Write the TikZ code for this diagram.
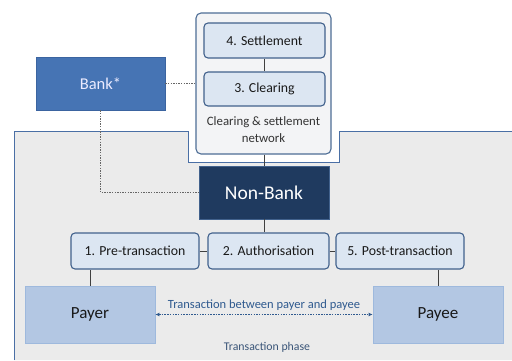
\documentclass[tikz,border=0pt]{standalone}
\usepackage{fontspec}
\setmainfont{Carlito}
\usetikzlibrary{arrows.meta}
\definecolor{greybg}{HTML}{EBEBEB}
\definecolor{frameblue}{HTML}{4A6FA5}
\definecolor{netfill}{HTML}{F3F4F6}
\definecolor{netline}{HTML}{4E6E96}
\definecolor{stepfill}{HTML}{DCE6F2}
\definecolor{stepline}{HTML}{41618C}
\definecolor{bankfill}{HTML}{4674B4}
\definecolor{bankline}{HTML}{3B64A0}
\definecolor{nonbank}{HTML}{1F3A5F}
\definecolor{partyfill}{HTML}{B3C7E3}
\definecolor{partyline}{HTML}{9EB9DD}
\definecolor{txblue}{HTML}{2F5A8F}
\definecolor{phasetxt}{HTML}{3A5578}
\tikzset{
  stepbox/.style={draw=stepline, line width=1.1pt, fill=stepfill, rounded corners=4pt,
    inner sep=0pt, font=\fontsize{13.8}{15}\selectfont, text=black!90},
  party/.style={draw=partyline, line width=0.8pt, fill=partyfill, inner sep=0pt,
    font=\fontsize{17}{18}\selectfont, text=black!90},
  link/.style={draw=black!75, line width=0.7pt},
  dotlink/.style={draw=black!60, line width=0.8pt, dash pattern=on 1.3pt off 1.3pt},
}
\begin{document}
\begin{tikzpicture}[x=1pt,y=-1pt]
\useasboundingbox (0,0) rectangle (512,360);
\fill[white] (0,0) rectangle (512,360);
% grey transaction area
\fill[greybg] (14,360) -- (14,131) -- (188,131) -- (188,162) -- (339,162) -- (339,131) -- (512,131) -- (512,360) -- cycle;
\draw[frameblue, line width=0.9pt] (14,360) -- (14,131) -- (188,131) -- (188,162) -- (339,162) -- (339,131) -- (512,131);
% clearing & settlement network
\node[draw=netline, line width=1.1pt, fill=netfill, rounded corners=5pt, minimum width=135pt, minimum height=141pt, inner sep=0pt] (net) at (263.5,83.5) {};
\node[stepbox, minimum width=121pt, minimum height=35pt] (settle) at (264.5,40.5) {4. Settlement};
\node[stepbox, minimum width=121pt, minimum height=34pt] (clear) at (264.5,89) {3. Clearing};
\node[font=\fontsize{12.8}{16.5}\selectfont, text=black!80, align=center] (nettxt) at (263.5,129.5) {Clearing \& settlement\\network};
\draw[link] (settle) -- (clear);
% bank
\node[draw=bankline, line width=0.8pt, fill=bankfill, minimum width=129pt, minimum height=53pt, inner sep=0pt, text=white!92!blue, font=\fontsize{16.5}{18}\selectfont] (bank) at (100.5,83.5) {Bank*};
% non-bank
\node[draw=stepline, line width=0.8pt, fill=nonbank, minimum width=130pt, minimum height=53pt, inner sep=0pt, text=white, font=\fontsize{19.5}{22}\selectfont] (nonbank) at (264,192.5) {Non-Bank};
% steps
\node[stepbox, minimum width=128pt, minimum height=36pt] (pre) at (135,251) {1. Pre-transaction};
\node[stepbox, minimum width=121pt, minimum height=36pt] (auth) at (268.5,251) {2. Authorisation};
\node[stepbox, minimum width=128pt, minimum height=36pt] (post) at (400,251) {5. Post-transaction};
% parties
\node[party, minimum width=130pt, minimum height=57pt] (payer) at (90,314.5) {Payer};
\node[party, minimum width=130pt, minimum height=57pt] (payee) at (438,314.5) {Payee};
% connectors
\draw[dotlink] (bank.east) -- (bank.east -| net.west);
\coordinate (bcorner) at (bank.south |- nonbank.west);
\draw[dotlink] (bank.south) -- (bcorner) -- (nonbank.west);
\draw[link] (net.south -| nonbank.north) -- (nonbank.north);
\draw[link] (nonbank.south) -- (nonbank.south |- auth.north);
\draw[link] (pre.east) -- (auth.west);
\draw[link] (auth.east) -- (post.west);
\draw[link] (payer.north) -- (payer.north |- pre.south);
\draw[link] (payee.north) -- (payee.north |- post.south);
\draw[txblue, line width=0.8pt, dash pattern=on 1.5pt off 1.2pt, {Latex[length=4pt,width=4pt]}-{Latex[length=4pt,width=4pt]}] (payer.east) -- node[above=0pt, font=\fontsize{12.5}{14}\selectfont, text=txblue] (txlabel) {Transaction between payer and payee} (payee.west);
\node[font=\fontsize{11.8}{13}\selectfont, text=phasetxt] (phase) at (267,347.5) {Transaction phase};
\end{tikzpicture}
\end{document}
